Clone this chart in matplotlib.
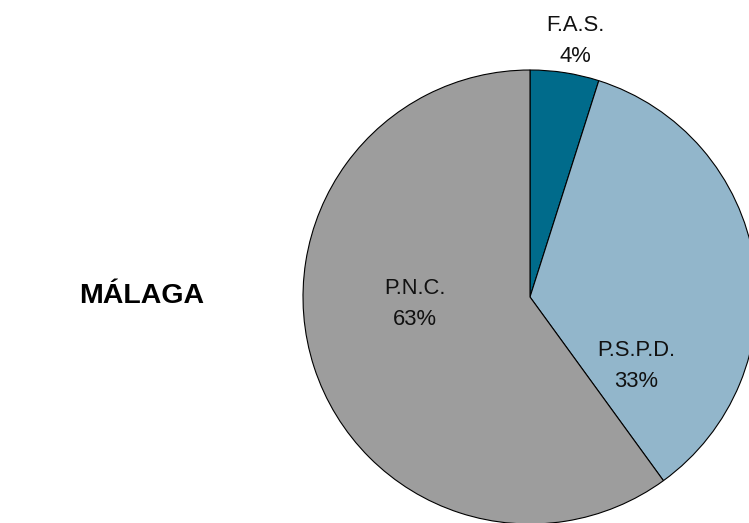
import matplotlib
matplotlib.use("Agg")
import matplotlib.pyplot as plt

plt.rcParams['font.family'] = ['Liberation Sans', 'DejaVu Sans']

categories = ["F.A.S.", "P.S.P.D.", "P.N.C."]
shares = [4.9, 35.1, 60.0]          # wedge sizes as drawn
pct_labels = ["4%", "33%", "63%"]  # printed labels
colors = ["#006b8b", "#92b6cb", "#9d9d9d"]
title = "MÁLAGA"

W, H = 749, 523
fig = plt.figure(figsize=(W / 100, H / 100), dpi=100)
ax = fig.add_axes([0, 0, 1, 1])

cx, cy, r = 530, H - 297, 227
ax.pie(shares, colors=colors, startangle=90, counterclock=False,
       center=(cx, cy), radius=r,
       wedgeprops=dict(edgecolor="black", linewidth=0.8))
ax.set_xlim(0, W)
ax.set_ylim(0, H)
ax.set_aspect('auto')
ax.axis('off')

label_pos = [(575, 41), (636, 366), (415, 304)]
for name, pct, (x, y) in zip(categories, pct_labels, label_pos):
    ax.text(x, H - y, f"{name}\n{pct}", ha="center", va="center",
            fontsize=15.8, linespacing=1.6, color="#111111")

ax.text(142, H - 296, title, ha="center", va="center",
        fontsize=20.5, fontweight="bold", color="black")

fig.savefig("out.png", dpi=100)
